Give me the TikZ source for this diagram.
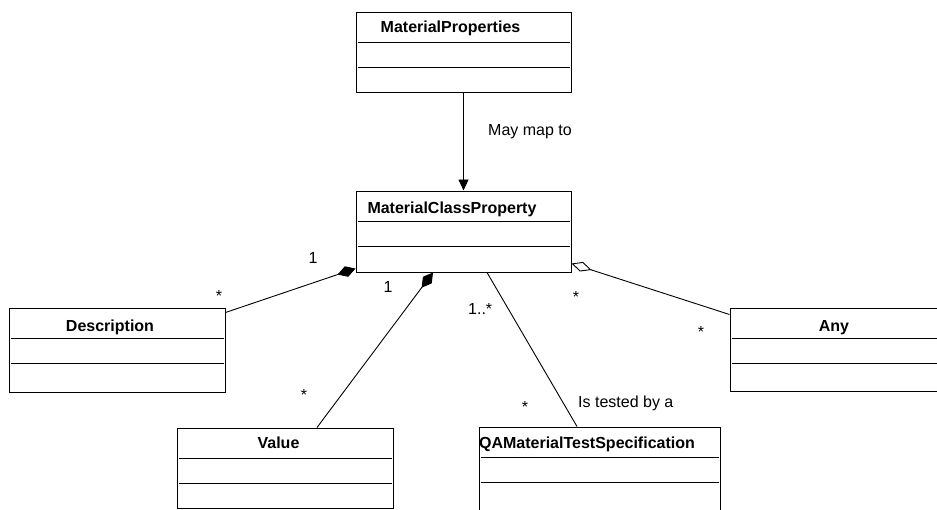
\documentclass[tikz,border=0pt]{standalone}
\usepackage{fontspec}
\setmainfont{Liberation Sans}
\usetikzlibrary{arrows.meta}

\tikzset{
  classbox/.style={draw, line width=1pt, inner sep=0pt},
  classname/.style={font=\bfseries\fontsize{16}{19}\selectfont, anchor=base, inner sep=0pt},
  sepline/.style={line width=0.9pt},
  link/.style={line width=0.9pt},
  lbl/.style={font=\fontsize{16}{19}\selectfont, inner sep=0pt, anchor=base},
}

\begin{document}
\begin{tikzpicture}[x=1pt, y=-1pt]
  \useasboundingbox (0,0) rectangle (937,509);
  \clip (0,0) rectangle (937,509);

  % classes
  \node[classbox, minimum width=215pt, minimum height=80pt] (mprops) at (463.5,52) {};
  \node[classbox, minimum width=215pt, minimum height=81pt] (mcp) at (463.5,231.5) {};
  \node[classbox, minimum width=216pt, minimum height=84pt] (desc) at (117,350) {};
  \node[classbox, minimum width=220pt, minimum height=83pt] (anybox) at (840,349.5) {};
  \node[classbox, minimum width=216pt, minimum height=80pt] (val) at (285,468) {};
  \node[classbox, minimum width=241pt, minimum height=85pt] (qa) at (599.5,469.5) {};

  \foreach \c in {mprops,mcp,desc,anybox,val,qa}
    \foreach \d in {31,56}
      \draw[sepline] ([xshift=2pt,yshift=-\d pt]\c.north west) -- ([xshift=-2pt,yshift=-\d pt]\c.north east);

  \node[classname] (mpropsname) at (450.5,32) {MaterialProperties};
  \node[classname] (mcpname) at (452,213) {MaterialClassProperty};
  \node[classname] (descname) at (110,331) {Description};
  \node[classname] (anyname) at (834,331) {Any};
  \node[classname] (valname) at (278.5,448) {Value};
  \node[classname] (qaname) at (587,448) {QAMaterialTestSpecification};

  % associations
  \draw[link, -{Triangle[length=11pt,width=10pt]}] (mprops.south) -- (mcp.north);
  \draw[link, {Diamond[length=19pt,width=11pt]}-] ([yshift=4pt]mcp.south west) -- ([yshift=-5pt]desc.north east);
  \draw[link, {Diamond[length=19pt,width=11pt]}-] ([xshift=-30.5pt]mcp.south) -- ([xshift=32pt]val.north);
  \draw[link] ([xshift=23.5pt]mcp.south) -- ([xshift=-22.5pt]qa.north);
  \draw[link, {Diamond[open,length=21pt,width=10pt,fill=white]}-] ([yshift=9pt]mcp.south east) -- ([yshift=-7pt]anybox.north west);

  % multiplicities and roles
  \node[lbl, anchor=base west] (maplbl) at (488,135) {May map to};
  \node[lbl] (descone) at (313,263) {1};
  \node[lbl] (descstar) at (219,301) {*};
  \node[lbl] (valone) at (388,292) {1};
  \node[lbl] (valstar) at (304,400) {*};
  \node[lbl, anchor=base west] (qamult) at (468,314) {1..*};
  \node[lbl] (qastar) at (525,412) {*};
  \node[lbl, anchor=base west] (testlbl) at (578,407) {Is tested by a};
  \node[lbl] (anystar) at (576,302) {*};
  \node[lbl] (anyboxstar) at (701,337) {*};
\end{tikzpicture}
\end{document}
